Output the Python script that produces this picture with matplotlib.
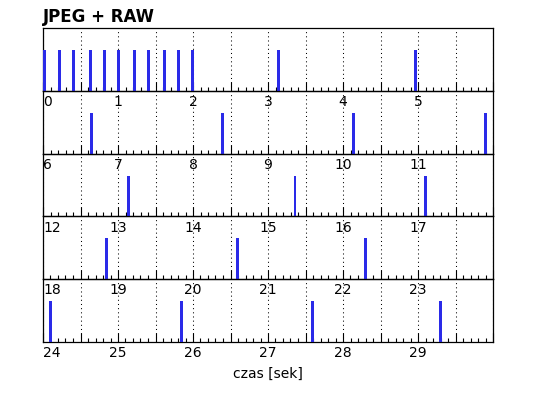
import numpy as np
import matplotlib
matplotlib.use("Agg")
import matplotlib.pyplot as plt
from matplotlib.ticker import MultipleLocator

# Event times (seconds) of captured frames
event_times = [0.02, 0.22, 0.40, 0.63, 0.82, 1.00, 1.22, 1.41, 1.62, 1.80, 1.99,
               3.14, 4.96,
               6.65, 8.39, 10.14, 11.90,
               13.14, 15.36, 17.10,
               18.85, 20.59, 22.30,
               24.10, 25.85, 27.59, 29.30]
bar_height = [0.65] * len(event_times)
row_span = 6
n_rows = 5
title = "JPEG + RAW"
xlabel = "czas [sek]"

W, H = 538, 398
fig = plt.figure(figsize=(W / 100, H / 100), dpi=100)

left_px, right_px = 43, 493
top_px, row_h_px = 28, 62.8
bar_color = "#2a2ae8"

times = np.array(event_times)
heights = np.array(bar_height)

for r in range(n_rows):
    x0 = r * row_span
    y_top = top_px + r * row_h_px
    ax = fig.add_axes([left_px / W, 1 - (y_top + row_h_px) / H,
                       (right_px - left_px) / W, row_h_px / H])
    ax.set_facecolor("none")
    ax.set_xlim(x0, x0 + row_span)
    ax.set_ylim(0, 1)
    m = (times >= x0) & (times < x0 + row_span)
    ax.bar(times[m], heights[m], width=0.04, color=bar_color, zorder=3)
    major = np.arange(x0, x0 + row_span + 0.001, 0.5)
    labels = [str(int(v)) if abs(v - round(v)) < 1e-6 and v < x0 + row_span - 1e-6 else "" for v in major]
    ax.set_xticks(major, labels=labels)
    ax.xaxis.set_minor_locator(MultipleLocator(0.1))
    ax.tick_params(axis="x", which="major", direction="in", length=6.5, width=0.8,
                   pad=3, labelsize=10, top=False)
    ax.tick_params(axis="x", which="minor", direction="in", length=3, width=0.8, top=False)
    ax.set_yticks([])
    ax.grid(True, axis="x", which="major", color="black", linestyle=(0, (1, 3)), linewidth=0.75)
    for s in ax.spines.values():
        s.set_linewidth(0.9)
        s.set_color("black")
    t0 = ax.xaxis.get_major_ticks()[0]
    t0.label1.set_horizontalalignment("left")
    if r == 0:
        ax.set_title(title, loc="left", fontsize=12, fontweight="bold", pad=4)
    if r == n_rows - 1:
        ax.set_xlabel(xlabel, fontsize=10, labelpad=5)

fig.savefig("out.png", dpi=100, facecolor="white")
